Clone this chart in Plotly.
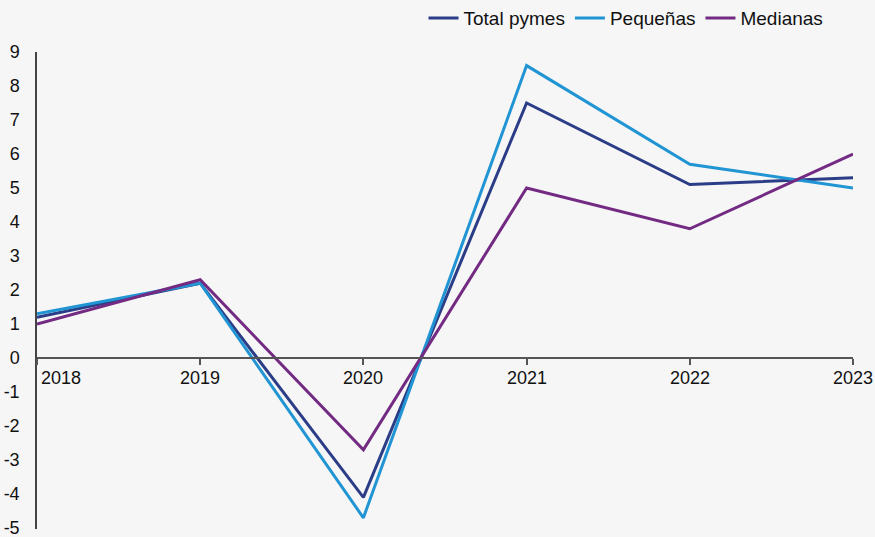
import plotly.graph_objects as go

years = [2018, 2019, 2020, 2021, 2022, 2023]
total_pymes = [1.2, 2.2, -4.1, 7.5, 5.1, 5.3]
pequenas = [1.3, 2.2, -4.7, 8.6, 5.7, 5.0]
medianas = [1.0, 2.3, -2.7, 5.0, 3.8, 6.0]
y_ticks = list(range(-5, 10))
y_tick_text = [str(v) for v in y_ticks]  # plain hyphen for negatives

series = [
    ("Total pymes", total_pymes, "#2b3d87"),
    ("Pequeñas", pequenas, "#2195d4"),
    ("Medianas", medianas, "#732a82"),
]

FONT = "Arial, Liberation Sans, sans-serif"
BG = "#f6f6f6"

fig = go.Figure()
for name, vals, color in series:
    fig.add_trace(go.Scatter(
        x=years, y=vals, name=name, mode="lines",
        line=dict(color=color, width=3),
    ))

y_min, y_max = -5.03, 9.0

# year labels sit just under the zero line; the first one is nudged right of the y axis
annotations = []
for i, yr in enumerate(years):
    annotations.append(dict(
        x=yr, y=0, xref="x", yref="y", text=str(yr), showarrow=False,
        xanchor="left" if i == 0 else "center", yanchor="top", yshift=-8,
        xshift=2 if i == 0 else 0,
        font=dict(family=FONT, size=18, color="#111111"),
    ))

fig.update_layout(
    width=875, height=537,
    paper_bgcolor=BG, plot_bgcolor=BG,
    margin=dict(l=37, r=22, t=52, b=8, autoexpand=False),
    font=dict(family=FONT, size=18, color="#111111"),
    showlegend=True,
    legend=dict(
        orientation="h", x=0.97, xanchor="right", y=1.031, yanchor="bottom",
        font=dict(family=FONT, size=19, color="#111111"),
        bgcolor="rgba(0,0,0,0)", itemwidth=30, tracegroupgap=0,
    ),
    annotations=annotations,
    xaxis=dict(
        range=[years[0], years[-1]],
        anchor="free", position=(0 - y_min) / (y_max - y_min),
        showline=True, linecolor="#555555", linewidth=2,
        ticks="outside", ticklen=6, tickwidth=1.5, tickcolor="#555555",
        tickvals=years, showticklabels=False,
        showgrid=False, zeroline=False, automargin=False,
    ),
    yaxis=dict(
        range=[y_min, y_max],
        tickmode="array", tickvals=y_ticks, ticktext=y_tick_text,
        showline=True, linecolor="#444444", linewidth=1.5,
        ticks="", ticklabelstandoff=12, ticklabeloverflow="allow",
        showgrid=False, zeroline=False, automargin=False,
        tickfont=dict(family=FONT, size=18, color="#111111"),
    ),
)

fig.write_html("out.html")
